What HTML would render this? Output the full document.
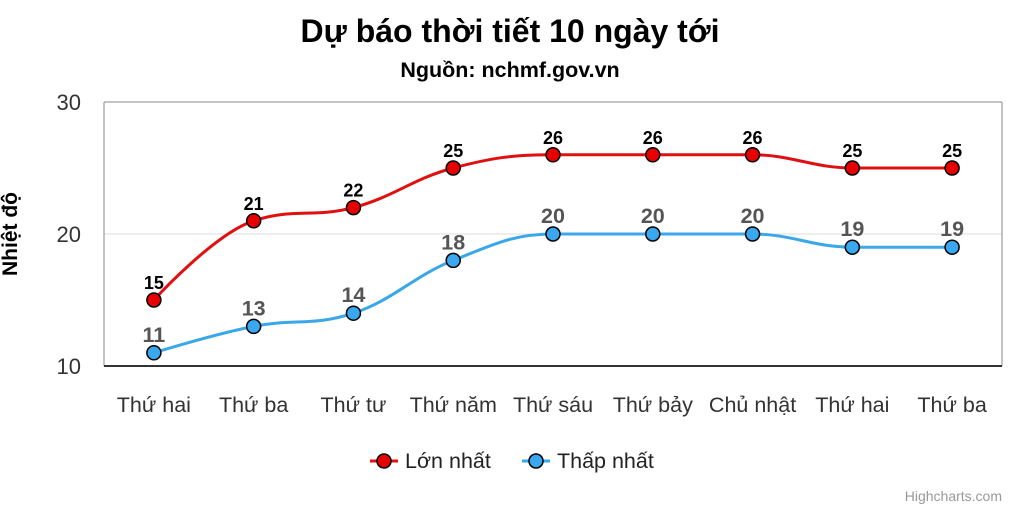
<!DOCTYPE html>
<html><head><meta charset="utf-8"><style>
body{margin:0;background:#fff;width:1020px;height:510px;overflow:hidden;font-family:"Liberation Sans",Arial,sans-serif}
</style></head><body>
<svg id="c" width="1020" height="510" xmlns="http://www.w3.org/2000/svg">
<text x="510" y="42" text-anchor="middle" font-size="32" font-weight="bold" fill="#000">Dự báo thời tiết 10 ngày tới</text>
<text x="510" y="77" text-anchor="middle" font-size="21.5" font-weight="bold" fill="#000">Nguồn: nchmf.gov.vn</text>
<text transform="translate(17,234) rotate(-90)" text-anchor="middle" font-size="21" font-weight="bold" fill="#000">Nhiệt độ</text>
<g id="grid"></g><g id="series"></g><g id="labels"></g>
<g>
<g><line x1="370" y1="461" x2="398" y2="461" stroke="#e01010" stroke-width="3"/><circle cx="384" cy="461" r="7" fill="#e60000" stroke="#000" stroke-width="1.5"/><text x="405" y="468" font-size="21.5" fill="#222">Lớn nhất</text></g>
<g><line x1="522" y1="461" x2="550" y2="461" stroke="#3aa8e8" stroke-width="3"/><circle cx="536" cy="461" r="7" fill="#3aa8f0" stroke="#000" stroke-width="1.5"/><text x="557" y="468" font-size="21.5" fill="#222">Thấp nhất</text></g>
</g>
<text x="1002" y="501" text-anchor="end" font-size="14" fill="#999">Highcharts.com</text>
</svg>
<script>
const categories=["Thứ hai","Thứ ba","Thứ tư","Thứ năm","Thứ sáu","Thứ bảy","Chủ nhật","Thứ hai","Thứ ba"];
const maxTemps=[15,21,22,25,26,26,26,25,25];
const minTemps=[11,13,14,18,20,20,20,19,19];
const yTicks=[10,20,30];
const L=104,R=1002,T=102,B=366,yMin=10,yMax=30;
const NS="http://www.w3.org/2000/svg";
const xS=i=>L+(R-L)/categories.length*(i+0.5);
const yS=v=>B-(v-yMin)/(yMax-yMin)*(B-T);
function mk(tag,attrs,parent,txt){const e=document.createElementNS(NS,tag);for(const k in attrs)e.setAttribute(k,attrs[k]);if(txt!=null)e.textContent=txt;parent.appendChild(e);return e;}
const grid=document.getElementById('grid'),ser=document.getElementById('series'),lab=document.getElementById('labels');
yTicks.forEach(t=>{
 if(t!==yMin){const g=mk('line',{x1:L,x2:R,y1:yS(t),y2:yS(t),stroke:t===yMax?'#888':'#ddd','stroke-width':1},grid);
 
 }
 const tx=mk('text',{x:81,y:yS(t)+8,'text-anchor':'end','font-size':22,fill:'#333'},grid,t);
 
 
});
const lb=mk('line',{x1:L,x2:L,y1:T,y2:B,stroke:'#888','stroke-width':1},grid);


const rb=mk('line',{x1:R,x2:R,y1:T,y2:B,stroke:'#888','stroke-width':1},grid);


const xa=mk('line',{x1:L,x2:R,y1:B,y2:B,stroke:'#333','stroke-width':2},grid);


categories.forEach((c,i)=>{
 const t=mk('text',{x:xS(i),y:412,'text-anchor':'middle','font-size':21.5,fill:'#333'},grid,c);
 
 
});
function spline(pts){
 const s=1.5,d=2.5;let p='M'+pts[0][0]+' '+pts[0][1];
 const cont=pts.map((pt,i)=>{
  if(i===0||i===pts.length-1)return {l:pt,r:pt};
  const [lx,ly]=pts[i-1],[nx,ny]=pts[i+1],[x,y]=pt;
  let lcx=(s*x+lx)/d,lcy=(s*y+ly)/d,rcx=(s*x+nx)/d,rcy=(s*y+ny)/d;
  const corr=((rcy-lcy)*(rcx-x))/(rcx-lcx)+y-rcy;lcy+=corr;rcy+=corr;
  if(lcy>Math.max(ly,y)){lcy=Math.max(ly,y);rcy=2*y-lcy;}else if(lcy<Math.min(ly,y)){lcy=Math.min(ly,y);rcy=2*y-lcy;}
  if(rcy>Math.max(ny,y)){rcy=Math.max(ny,y);lcy=2*y-rcy;}else if(rcy<Math.min(ny,y)){rcy=Math.min(ny,y);lcy=2*y-rcy;}
  return {l:[lcx,lcy],r:[rcx,rcy]};
 });
 for(let i=1;i<pts.length;i++){const a=cont[i-1].r,b=cont[i].l;p+=` C${a[0]} ${a[1]} ${b[0]} ${b[1]} ${pts[i][0]} ${pts[i][1]}`;}
 return p;
}
function drawSeries(vals,color,fill,name,labColor){
 const pts=vals.map((v,i)=>[xS(i),yS(v)]);
 const path=mk('path',{d:spline(pts),fill:'none',stroke:color,'stroke-width':3},ser);
 
 
 pts.forEach((pt,i)=>{
  const c=mk('circle',{cx:pt[0],cy:pt[1],r:7,fill:fill,stroke:'#000','stroke-width':1.5},ser);
  
  
  const t=mk('text',{x:pt[0],y:pt[1]-11,'text-anchor':'middle','font-size':name==='max'?18:21.5,'font-weight':'bold',fill:labColor},lab,vals[i]);
  
  
 });
}
drawSeries(minTemps,'#3aa8e8','#3aa8f0','min','#555');
drawSeries(maxTemps,'#e01010','#e60000','max','#000');
</script>
</body></html>
